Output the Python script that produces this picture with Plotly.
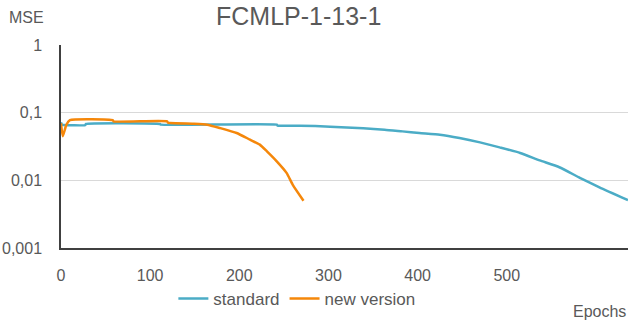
import plotly.graph_objects as go

# Training error per epoch (log scale)
standard_epochs = [0, 1, 3, 27, 28, 111, 112, 242, 243, 268, 302, 339, 363, 383, 402,
                   425, 447, 470, 492, 515, 537, 559, 582, 604, 636]
standard_mse = [0.072, 0.066, 0.0655, 0.0655, 0.068, 0.068, 0.0665, 0.0665, 0.0643, 0.0643,
                0.0621, 0.0586, 0.0561, 0.0529, 0.0501, 0.0473, 0.0423, 0.0364, 0.0307,
                0.0254, 0.0197, 0.0156, 0.0109, 0.0079, 0.0051]

new_epochs = [0, 2, 6, 10, 58, 59, 119, 120, 148, 164, 178, 197, 212, 223, 231, 242, 253,
              260, 272]
new_mse = [0.070, 0.045, 0.066, 0.0775, 0.0775, 0.0744, 0.0744, 0.0712, 0.0688, 0.0665,
           0.0594, 0.0501, 0.0399, 0.0337, 0.0268, 0.0191, 0.0129, 0.0086, 0.0050]

y_ticks = [0.001, 0.01, 0.1, 1]
y_tick_text = ["0,001", "0,01", "0,1", "1"]
x_ticks = [0, 100, 200, 300, 400, 500]

text_color = "#595959"
font_family = "Liberation Sans, Arial, sans-serif"

fig = go.Figure()
fig.add_trace(go.Scatter(x=standard_epochs, y=standard_mse, mode="lines", name="standard",
                         line=dict(color="#4BACC6", width=2.5, shape="spline", smoothing=0.5)))
fig.add_trace(go.Scatter(x=new_epochs, y=new_mse, mode="lines", name="new version",
                         line=dict(color="#F5870A", width=2.5, shape="spline", smoothing=0.5)))

fig.update_layout(
    width=628, height=324,
    margin=dict(l=61, r=0, t=45, b=76),
    paper_bgcolor="white", plot_bgcolor="white",
    font=dict(family=font_family, size=16, color=text_color),
    showlegend=True,
    legend=dict(orientation="h", x=0.416, xanchor="center", y=-0.251, yanchor="middle",
                font=dict(size=17, color=text_color), itemwidth=30,
                bgcolor="rgba(0,0,0,0)"),
    xaxis=dict(range=[0, 636], tickvals=x_ticks, showgrid=False, zeroline=False,
               showline=True, linecolor="#404040", linewidth=1.5,
               ticks="outside", ticklen=0, ticklabelstandoff=12,
               tickfont=dict(size=16, color=text_color)),
    yaxis=dict(type="log", range=[-3, 0], tickvals=y_ticks, ticktext=y_tick_text,
               showgrid=True, gridcolor="#D9D9D9", gridwidth=1, zeroline=False,
               showline=True, linecolor="#404040", linewidth=1.5,
               ticks="outside", ticklen=0, ticklabelstandoff=14,
               tickfont=dict(size=16, color=text_color)),
    annotations=[
        dict(text="FCMLP-1-13-1", xref="paper", yref="paper", x=(298 - 61) / 567, y=1.145,
             xanchor="center", yanchor="middle", showarrow=False,
             font=dict(size=25, color=text_color)),
        dict(text="MSE", xref="paper", yref="paper", x=-(61 - 7) / 567, y=1.135,
             xanchor="left", yanchor="middle", showarrow=False,
             font=dict(size=16, color=text_color)),
        dict(text="Epochs", xref="paper", yref="paper", x=1.0, y=-(311 - 248) / 203,
             xanchor="right", yanchor="middle", showarrow=False,
             font=dict(size=16, color=text_color)),
    ],
)

fig.write_html("out.html")
